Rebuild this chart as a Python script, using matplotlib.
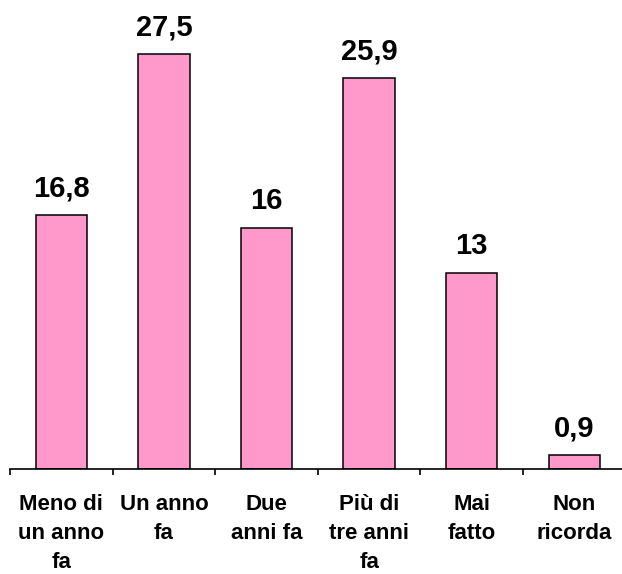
import matplotlib
matplotlib.use("Agg")
import matplotlib.pyplot as plt
import numpy as np

categories = ["Meno di\nun anno\nfa", "Un anno\nfa", "Due\nanni fa",
              "Più di\ntre anni\nfa", "Mai\nfatto", "Non\nricorda"]
values = [16.8, 27.5, 16.0, 25.9, 13.0, 0.9]
value_labels = ["16,8", "27,5", "16", "25,9", "13", "0,9"]

plt.rcParams["font.family"] = ["Liberation Sans", "DejaVu Sans"]

fig = plt.figure(figsize=(6.22, 5.74), dpi=100)
# axis spans from x=10px to past the right edge, like the original
ax = fig.add_axes([10 / 622, 105 / 574, 615.6 / 622, 469 / 574])

x = np.arange(len(categories))
ax.bar(x, values, width=0.5, color="#FF99CC", edgecolor="black", linewidth=1.1)

for xi, v, lab in zip(x, values, value_labels):
    ax.annotate(lab, (xi, v), xytext=(0, 13.5), textcoords="offset points",
                ha="center", va="baseline", fontsize=21, fontweight="bold")

ax.set_xlim(-0.5, len(categories) - 0.5)
ax.set_ylim(0, 31.08)

for s in ["top", "right", "left"]:
    ax.spines[s].set_visible(False)
ax.spines["bottom"].set_linewidth(1.2)
ax.set_yticks([])

ax.set_xticks(x)
ax.set_xticklabels(categories, fontsize=16, fontweight="bold", linespacing=1.5)
ax.tick_params(axis="x", which="major", length=0, pad=18)
ax.set_xticks(np.arange(-0.5, len(categories)), minor=True)
ax.tick_params(axis="x", which="minor", length=4.5, width=1.2, direction="out")

fig.savefig("out.png", dpi=100)
